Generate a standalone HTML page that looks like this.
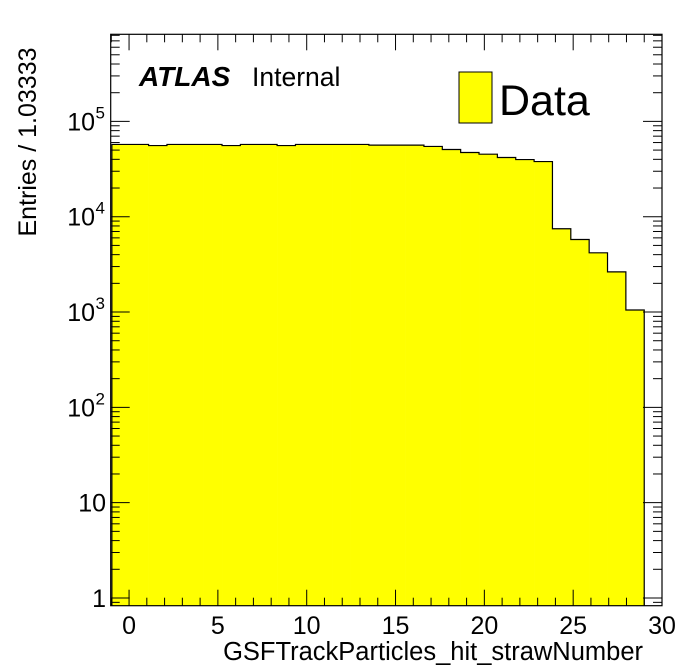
<!DOCTYPE html>
<html><head><meta charset="utf-8"><style>
html,body{margin:0;padding:0;background:#fff;}
svg{display:block;font-family:"Liberation Sans",Arial,sans-serif;}
</style></head><body>
<svg id="chart" width="696" height="672" viewBox="0 0 696 672" xmlns="http://www.w3.org/2000/svg">
<rect x="0" y="0" width="696" height="672" fill="#fff"/>
<g id="bars"></g>
<g id="axes"></g>
<rect x="110.7" y="34.3" width="551.3" height="571.4" fill="none" stroke="#000" stroke-width="1.2"/>
<text x="139" y="86" font-size="28" font-weight="bold" font-style="italic">ATLAS</text>
<text x="252" y="86" font-size="26.5">Internal</text>
<rect x="459" y="72" width="33" height="51" fill="#ffff00" stroke="#000" stroke-width="1"/>
<text x="499" y="115" font-size="43">Data</text>
<text x="643" y="660" font-size="25.5" text-anchor="end">GSFTrackParticles_hit_strawNumber</text>
<text x="0" y="0" font-size="25" text-anchor="middle" transform="translate(36,142) rotate(-90)">Entries / 1.03333</text>
</svg>
<script>
const binStart = -0.9667;
const binWidth = 1.03333;
const counts = [57300,57300,55800,57300,57300,57300,55800,57300,57300,55800,57300,57300,57300,57300,56400,56400,56400,54600,50700,47200,45300,41800,39800,37900,7480,5770,4180,2640,1050];
const xTicks = [0,5,10,15,20,25,30];
const yTickExps = [0,1,2,3,4,5];
const yTickLabels = ["1","10","10","10","10","10"];
const yTickSups = ["","","2","3","4","5"];

const X0=110.7, X1=662, Y0=605.7, Y1=34.3;
const xmin=-1.033, xmax=30, lymin=Math.log10(0.83), lymax=Math.log10(820000);
const NS="http://www.w3.org/2000/svg";
function xs(v){return X0+(v-xmin)/(xmax-xmin)*(X1-X0);}
function ys(v){return Y0-(Math.log10(v)-lymin)/(lymax-lymin)*(Y0-Y1);}
function mk(tag,attrs,parent){const e=document.createElementNS(NS,tag);for(const k in attrs)e.setAttribute(k,attrs[k]);parent.appendChild(e);return e;}

const bars=document.getElementById('bars');
let d="M"+xs(binStart)+" "+Y0;
counts.forEach((c,i)=>{
  const xa=xs(binStart+i*binWidth), xb=xs(binStart+(i+1)*binWidth), y=ys(c);
  const r=mk('rect',{x:xa,y:y,width:xb-xa+0.3,height:Y0-y,fill:'#ffff00'},bars);
  
  
  d+=" L"+xa+" "+y+" L"+xb+" "+y;
});
d+=" L"+xs(binStart+counts.length*binWidth)+" "+Y0;
const outline=mk('path',{d:d,fill:'none',stroke:'#000','stroke-width':1.2},bars);



const ax=document.getElementById('axes');
for(let v=-1;v<=30;v++){
  const x=xs(v); if(x<X0+0.5||x>X1-0.5) continue;
  const len=(v%5===0)?16:8;
  const t1=mk('line',{x1:x,x2:x,y1:Y0,y2:Y0-len,stroke:'#000','stroke-width':1},ax);
  
  
  const t2=mk('line',{x1:x,x2:x,y1:Y1,y2:Y1+len,stroke:'#000','stroke-width':1},ax);
  
  
}
xTicks.forEach(v=>{
  const t=mk('text',{x:xs(v),y:634,'font-size':25,'text-anchor':'middle'},ax);
  t.textContent=String(v);
  
  
});
for(let e=-1;e<=5;e++){
  for(let m=1;m<=9;m++){
    const v=m*Math.pow(10,e); const y=ys(v);
    if(y>Y0-0.5||y<Y1+0.5) continue;
    const len=(m===1)?19:9;
    const a=mk('line',{x1:X0,x2:X0+len,y1:y,y2:y,stroke:'#000','stroke-width':1},ax);
    
    
    const b=mk('line',{x1:X1,x2:X1-len,y1:y,y2:y,stroke:'#000','stroke-width':1},ax);
    
    
  }
}
yTickExps.forEach((e,i)=>{
  const y=ys(Math.pow(10,e))+9;
  const t=mk('text',{x:yTickSups[i]?95:106,y:y,'font-size':25,'text-anchor':'end'},ax);
  t.textContent=yTickLabels[i];
  
  
  if(yTickSups[i]){
    const s=mk('text',{x:95.5,y:y-12,'font-size':17},ax);
    s.textContent=yTickSups[i];
    
    
  }
});
</script>
</body></html>
